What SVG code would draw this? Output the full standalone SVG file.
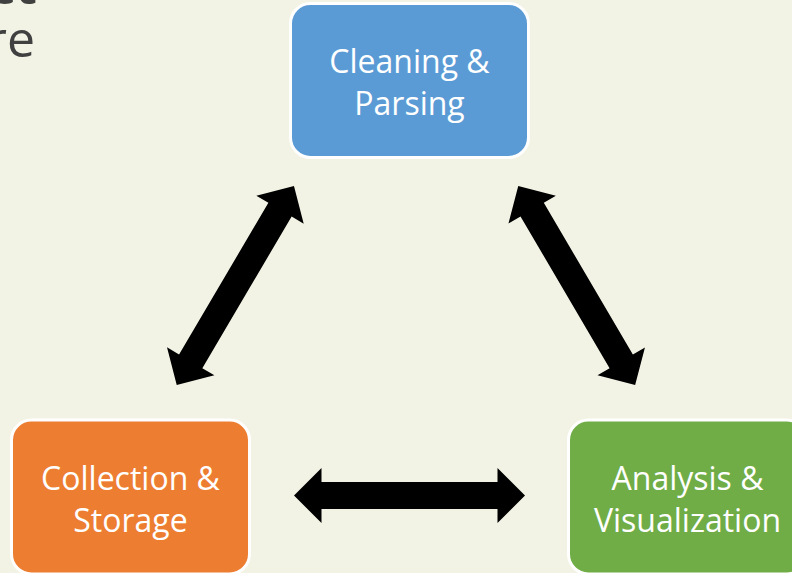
<svg xmlns="http://www.w3.org/2000/svg" width="792" height="573" viewBox="0 0 792 573">
  <style>
    .box { stroke: #FFFFFF; stroke-width: 3; }
    .label { font-family: "Open Sans", "Liberation Sans", sans-serif; font-size: 32px; fill: #FFFFFF; text-anchor: middle; }
    .title { font-family: "Open Sans", "Liberation Sans", sans-serif; fill: #404040; text-anchor: end; }
    .arrow { fill: #000000; }
  </style>
  <defs>
    <!-- double-headed block arrow, centred on the origin, pointing along x -->
    <path id="dbl-arrow" class="arrow" d="M -115.5 0 L -88 -27.5 L -88 -13.5 L 88 -13.5 L 88 -27.5 L 115.5 0 L 88 27.5 L 88 13.5 L -88 13.5 L -88 27.5 Z"/>
  </defs>

  <!-- slide background -->
  <rect x="0" y="0" width="792" height="573" fill="#F3F3E5"/>

  <!-- title text running off the left edge -->
  <text class="title" x="37" y="4" font-size="50" font-weight="bold">ct</text>
  <text class="title" x="35" y="57" font-size="50">re</text>

  <!-- connectors -->
  <g id="connectors">
    <use href="#dbl-arrow" transform="translate(235.35 285.5) rotate(-59.5)"/>
    <use href="#dbl-arrow" transform="translate(576.7 285.5) rotate(59.6)"/>
    <use href="#dbl-arrow" transform="translate(409.5 495.5)"/>
  </g>

  <!-- nodes -->
  <g id="cleaning-parsing">
    <rect class="box" x="290.5" y="3.5" width="238" height="154" rx="20" fill="#5B9BD5"/>
    <text class="label" x="409.5" y="73">Cleaning &amp;</text>
    <text class="label" x="409.5" y="115">Parsing</text>
  </g>

  <g id="collection-storage">
    <rect class="box" x="11.5" y="420" width="238" height="154" rx="20" fill="#ED7D31"/>
    <text class="label" x="130.5" y="490">Collection &amp;</text>
    <text class="label" x="130.5" y="532">Storage</text>
  </g>

  <g id="analysis-visualization">
    <rect class="box" x="568.5" y="420" width="238" height="154" rx="20" fill="#70AD47"/>
    <text class="label" x="687.5" y="490">Analysis &amp;</text>
    <text class="label" x="687.5" y="532">Visualization</text>
  </g>
</svg>
